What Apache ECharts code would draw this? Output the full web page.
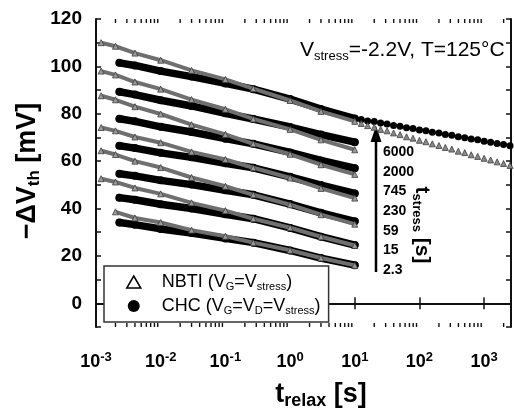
<!DOCTYPE html>
<html><head><meta charset="utf-8">
<script src="https://cdn.jsdelivr.net/npm/echarts@6/dist/echarts.min.js"></script>
<style>html,body{margin:0;padding:0;background:#fff}#c{width:514px;height:415px}</style>
</head><body><div id="c"></div>
<script>
// ---- data ----
const stressTimes = ['6000', '2000', '745', '230', '59', '15', '2.3'];
const tNBTI = [0.0012, 0.002, 0.004, 0.01, 0.03, 0.1, 0.27, 1, 3, 10];
const nbti6000 = [110, 108.5, 105.6, 102.6, 98.3, 94.5, 90.6, 85.6, 81.0, 76.8];
const nbti2000 = [98, 96.4, 93.4, 90.4, 86.0, 81.9, 77.8, 73.4, 69.0, 64.8];
const nbti745 = [87.6, 85.9, 83.0, 79.9, 75.4, 71.3, 67.3, 62.9, 58.5, 54.4];
const nbti230 = [74.2, 72.8, 70.2, 67.8, 63.9, 60.7, 57.2, 52.9, 48.5, 44.4];
const nbti59 = [64.4, 62.8, 60.0, 57.3, 53.1, 49.4, 45.8, 41.6, 37.4, 33.4];
const nbti15 = [52.6, 51.2, 48.7, 46.2, 42.4, 39.1, 35.7, 31.9, 28.1, 24.4];
const nbti2p3 = [null, 38.6, 36.0, 34.1, 30.9, 28.3, 25.6, 22.4, 19.1, 16.0];

const tCHC = [0.0023, 0.004, 0.01, 0.03, 0.1, 0.27, 1, 3, 10];
const chc6000 = [101.5, 100.4, 98.0, 95.7, 92.8, 90.4, 86.2, 82.0, 78.0];
const chc2000 = [89.3, 88.1, 85.7, 83.3, 80.2, 77.8, 74.4, 71.2, 68.0];
const chc745 = [77.9, 76.8, 74.5, 72.3, 69.5, 67.3, 63.7, 60.3, 57.0];
const chc230 = [66.5, 65.5, 63.5, 61.6, 59.1, 57.2, 53.4, 49.9, 46.4];
const chc59 = [54.7, 53.8, 51.9, 50.1, 47.7, 45.8, 41.9, 38.2, 34.6];
const chc15 = [44.6, 43.7, 41.8, 40.0, 37.6, 35.7, 31.8, 28.1, 24.6];
const chc2p3 = [34.1, 33.2, 31.4, 29.7, 27.4, 25.6, 22.3, 19.1, 16.1];

const tLong = [12.6, 15.8, 20, 25.1, 31.6, 39.8, 50.1, 63.1, 79.4, 100, 126, 158, 200, 251, 316, 398, 501, 631, 794, 1000, 1259, 1585, 1995, 2512];
const chcLong = [77.6, 77.0, 76.7, 76.1, 75.7, 75.1, 74.7, 74.1, 73.8, 73.2, 72.8, 72.2, 71.9, 71.3, 70.9, 70.3, 69.9, 69.4, 69.0, 68.4, 68.0, 67.4, 67.0, 66.5];
const nbtiLong = [75.9, 75.0, 74.3, 73.4, 72.8, 71.9, 71.2, 70.3, 69.7, 68.8, 68.2, 67.3, 66.6, 65.8, 65.1, 64.2, 63.6, 62.7, 62.0, 61.2, 60.5, 59.7, 59.0, 58.2];

const yTicks = [0, 20, 40, 60, 80, 100, 120];
const minorMult = [2, 3, 4, 5, 6, 7, 8, 9];
const decades = [0.001, 0.01, 0.1, 1, 10, 100, 1000];

// ---- chart ----
const F = '"Liberation Sans", Arial, Helvetica, sans-serif';
const nbtiSets = [nbti6000, nbti2000, nbti745, nbti230, nbti59, nbti15, nbti2p3];
const chcSets = [chc6000, chc2000, chc745, chc230, chc59, chc15, chc2p3];
const pair = (ts, vs) => ts.map((t, i) => [t, vs[i]]);

const series = [];
chcSets.forEach(v => series.push({
  type: 'line', name: 'CHC', data: pair(tCHC, v), symbol: 'circle', symbolSize: 8,
  itemStyle: { color: '#000' }, lineStyle: { color: '#000', width: 7.5, cap: 'round', join: 'round' },
  z: 2, silent: true
}));
nbtiSets.forEach(v => series.push({
  type: 'line', name: 'NBTI', data: pair(tNBTI, v), symbol: 'triangle', symbolSize: 6,
  itemStyle: { color: '#9a9a9a', borderColor: '#3c3c3c', borderWidth: 0.8 }, lineStyle: { color: '#6f6f6f', width: 4 },
  z: 3, silent: true, connectNulls: false
}));
series.push({
  type: 'line', name: 'CHC', data: pair(tLong, chcLong), symbol: 'circle', symbolSize: 7,
  itemStyle: { color: '#000' }, lineStyle: { color: '#000', width: 1.5 }, z: 2, silent: true
});
series.push({
  type: 'line', name: 'NBTI', data: pair(tLong, nbtiLong), symbol: 'triangle', symbolSize: 6,
  itemStyle: { color: '#8a8a8a', borderColor: '#3c3c3c', borderWidth: 0.8 }, lineStyle: { width: 0, opacity: 0 }, z: 3, silent: true
});
const minorTicks = [];
decades.forEach(d => minorMult.forEach(m => { if (d * m < 2600) minorTicks.push([d * m, 0]); }));
series.push({
  type: 'custom', name: 'minor', coordinateSystem: 'cartesian2d', xAxisIndex: 0, yAxisIndex: 0,
  data: minorTicks, silent: true, z: 10, clip: false,
  renderItem: (params, api) => {
    const v = api.value(0);
    const pb = api.coord([v, -10]);
    const pt = api.coord([v, 120]);
    const st = { stroke: '#111', lineWidth: 1.4, fill: null };
    return { type: 'group', children: [
      { type: 'line', shape: { x1: pb[0], y1: pb[1], x2: pb[0], y2: pb[1] - 4 }, style: st },
      { type: 'line', shape: { x1: pt[0], y1: pt[1], x2: pt[0], y2: pt[1] + 4 }, style: st }
    ]};
  }
});

const axisLine = { show: true, lineStyle: { color: '#111', width: 2 } };
const tick = (len) => ({ show: true, inside: true, length: len, lineStyle: { color: '#111', width: 1.5 } });
const isPow = v => Math.abs(Math.log10(v) - Math.round(Math.log10(v))) < 1e-6;

const stressY0 = 152, stressStep = 19.7;
const graphic = [
  { type: 'text', x: 300, y: 50, style: { text: '{a|V}{b|stress}{a|=-2.2V, T=125°C}', align: 'left', verticalAlign: 'middle', textAlign: 'left', textVerticalAlign: 'middle',
    rich: { a: { fontFamily: F, fontSize: 21, lineHeight: 26, color: '#000' }, b: { fontFamily: F, fontSize: 13, lineHeight: 13, verticalAlign: 'bottom', color: '#000' } } } },
  { type: 'text', x: 28, y: 171, rotation: Math.PI / 2, style: { text: '{a|−ΔV}{b|th}{a| [mV]}', align: 'center', verticalAlign: 'middle', textAlign: 'center', textVerticalAlign: 'middle',
    rich: { a: { fontFamily: F, fontWeight: 'bold', fontSize: 27, lineHeight: 30, color: '#000' }, b: { fontFamily: F, fontWeight: 'bold', fontSize: 17, lineHeight: 17, verticalAlign: 'bottom', color: '#000' } } } },
  { type: 'text', x: 321, y: 395, style: { text: '{a|t}{b|relax}{a| [s]}', align: 'center', verticalAlign: 'middle', textAlign: 'center', textVerticalAlign: 'middle',
    rich: { a: { fontFamily: F, fontWeight: 'bold', fontSize: 27, lineHeight: 30, color: '#000' }, b: { fontFamily: F, fontWeight: 'bold', fontSize: 18, lineHeight: 18, verticalAlign: 'bottom', color: '#000' } } } },
  { type: 'text', x: 422, y: 225, rotation: -Math.PI / 2, style: { text: '{a|t}{b|stress}{a| [s]}', align: 'center', verticalAlign: 'middle', textAlign: 'center', textVerticalAlign: 'middle',
    rich: { a: { fontFamily: F, fontWeight: 'bold', fontSize: 21, lineHeight: 24, color: '#000' }, b: { fontFamily: F, fontWeight: 'bold', fontSize: 13, lineHeight: 13, verticalAlign: 'bottom', color: '#000' } } } },
  { type: 'line', shape: { x1: 376, y1: 272, x2: 376, y2: 138 }, style: { stroke: '#000', lineWidth: 2.5 } },
  { type: 'polygon', shape: { points: [[376, 126], [370.5, 142], [381.5, 142]] }, style: { fill: '#000' } }
];
stressTimes.forEach((s, i) => graphic.push({
  type: 'text', x: 383, y: stressY0 + i * stressStep,
  style: { text: s, fontFamily: F, fontWeight: 'bold', fontSize: 14, fill: '#000', align: 'left', verticalAlign: 'middle', textAlign: 'left', textVerticalAlign: 'middle' }
}));

const option = {
  animation: false,
  backgroundColor: '#fff',
  grid: { left: 96, top: 19, right: -1, bottom: 88, containLabel: false },
  xAxis: [
    { type: 'log', logBase: 10, min: 0.001, max: 2600, position: 'bottom', axisLine, axisTick: tick(6), splitLine: { show: false },
      axisLabel: { margin: 24, formatter: v => isPow(v) ? '{b|10}{s|' + Math.round(Math.log10(v)) + '}' : '',
        rich: { b: { fontFamily: F, fontWeight: 'bold', fontSize: 18, lineHeight: 22, color: '#000' }, s: { fontFamily: F, fontWeight: 'bold', fontSize: 13, lineHeight: 13, verticalAlign: 'top', color: '#000' } } } },
    { type: 'log', logBase: 10, min: 0.001, max: 2600, position: 'top', axisLine, axisTick: tick(6), splitLine: { show: false }, axisLabel: { show: false } }
  ],
  yAxis: [
    { type: 'value', min: -10, max: 120, interval: 10, axisLine, axisTick: tick(5), splitLine: { show: false },
      axisLabel: { margin: 14, fontFamily: F, fontWeight: 'bold', fontSize: 19, color: '#000', formatter: v => yTicks.includes(v) ? String(v) : '' } },
    { type: 'value', min: -10, max: 120, interval: 10, position: 'right', axisLine, axisTick: tick(5), splitLine: { show: false }, axisLabel: { show: false } }
  ],
  legend: {
    left: 104, top: 266, orient: 'vertical', selectedMode: false, itemWidth: 14, itemHeight: 12, itemGap: 5,
    padding: [7, 8, 6, 22], backgroundColor: '#fff', borderColor: '#333', borderWidth: 1.5, borderRadius: 0,
    data: [
      { name: 'NBTI', icon: 'triangle', itemStyle: { color: '#fff', borderColor: '#000', borderWidth: 1.5 } },
      { name: 'CHC', icon: 'circle', itemStyle: { color: '#000', borderWidth: 0 } }
    ],
    formatter: n => n === 'NBTI' ? '{n|NBTI (V}{s|G}{n|=V}{s|stress}{n|)}' : '{n|CHC (V}{s|G}{n|=V}{s|D}{n|=V}{s|stress}{n|)}',
    textStyle: { padding: [0, 0, 0, 16], rich: {
      n: { fontFamily: F, fontSize: 18, lineHeight: 20, color: '#000' },
      s: { fontFamily: F, fontSize: 11, lineHeight: 11, verticalAlign: 'bottom', padding: [4, 0, 0, 0], color: '#000' } } }
  },
  graphic,
  series
};
const chart = echarts.init(document.getElementById('c'), null, { renderer: 'canvas' });
chart.setOption(option);
</script></body></html>
